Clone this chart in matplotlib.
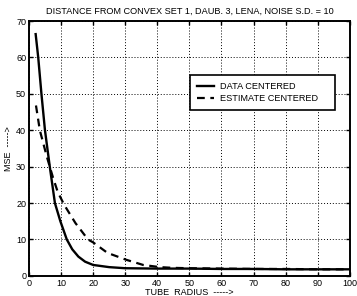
import matplotlib
matplotlib.use('Agg')
import matplotlib.pyplot as plt

# tube radius vs MSE
data_x = [2.1, 2.9, 3.9, 5.0, 6.5, 8.1, 9.8, 11.8, 13.5, 15.4, 17.5, 20, 25, 30, 40, 50, 60, 70, 80, 90, 100]
data_y = [66.4, 60.0, 50.0, 40.0, 30.0, 20.0, 15.0, 10.0, 7.3, 5.3, 3.9, 3.0, 2.4, 2.1, 2.0, 2.0, 1.9, 1.9, 1.8, 1.8, 1.8]

est_x = [2.2, 3.4, 5.5, 7.5, 9.0, 11.0, 14.5, 18.4, 20, 24.5, 30.4, 35.6, 40.8, 45, 50, 60, 70, 80, 90, 100]
est_y = [46.8, 40.0, 33.0, 27.0, 23.0, 19.5, 14.5, 10.0, 9.2, 6.3, 4.4, 3.0, 2.4, 2.2, 2.1, 2.0, 1.9, 1.9, 1.8, 1.8]

x_ticks = list(range(0, 101, 10))
y_ticks = list(range(0, 71, 10))

plt.rcParams['font.family'] = ['Liberation Sans', 'DejaVu Sans']

fig = plt.figure(figsize=(3.57, 2.96), dpi=100)
ax = fig.add_axes([0.081, 0.068, 0.899, 0.861])

ax.plot(data_x, data_y, color='black', linewidth=1.7, label='DATA CENTERED')
ax.plot(est_x, est_y, color='black', linewidth=1.6, linestyle=(0, (3.5, 2.5)), label='ESTIMATE CENTERED')

ax.set_xlim(0, 100)
ax.set_ylim(0, 70)
ax.set_xticks(x_ticks)
ax.set_yticks(y_ticks)
ax.tick_params(direction='in', length=3, labelsize=6.5, pad=2, top=True, right=True, width=1)
ax.grid(True, color='black', linestyle=(0, (1, 2)), linewidth=0.7)
for s in ax.spines.values():
    s.set_linewidth(1.4)

ax.set_title('DISTANCE FROM CONVEX SET 1, DAUB. 3, LENA, NOISE S.D. = 10', fontsize=6.6, pad=5)
ax.set_xlabel('TUBE  RADIUS  ----->', fontsize=6.5, labelpad=0)
ax.set_ylabel('MSE  ----->', fontsize=6.5, labelpad=2)

leg = ax.legend(loc='upper left', bbox_to_anchor=(0.502, 0.789, 0.452, 0.0), mode='expand',
                fontsize=6.6, frameon=True, fancybox=False, borderpad=0.8, handlelength=1.8,
                handletextpad=0.7, labelspacing=0.3, borderaxespad=0)
leg.get_frame().set_edgecolor('black')
leg.get_frame().set_linewidth(1.2)
leg.get_frame().set_alpha(1)

fig.savefig('out.png', dpi=100)
